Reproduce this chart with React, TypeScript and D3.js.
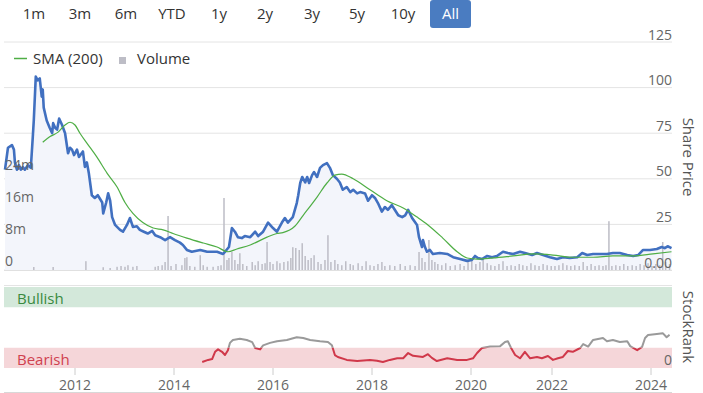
import React from 'react';
import * as d3 from 'd3';

const W = 703;
const H = 393;

const rangeButtons = ['1m', '3m', '6m', 'YTD', '1y', '2y', '3y', '5y', '10y'];
const buttonCenters = [34, 80, 126, 172, 219, 265, 312, 357, 403];

const priceYears = [
  2010.59, 2010.65, 2010.73, 2010.77, 2010.79, 2010.83, 2010.87, 2010.91, 2010.95, 2010.99,
  2011.05, 2011.11, 2011.15, 2011.17, 2011.21, 2011.25, 2011.29, 2011.33, 2011.35, 2011.37,
  2011.43, 2011.49, 2011.54, 2011.56, 2011.60, 2011.64, 2011.68, 2011.74, 2011.80, 2011.86,
  2011.90, 2011.94, 2011.98, 2012.04, 2012.08, 2012.16, 2012.20, 2012.24, 2012.28, 2012.34,
  2012.40, 2012.46, 2012.55, 2012.57, 2012.63, 2012.67, 2012.71, 2012.75, 2012.81, 2012.91,
  2012.97, 2013.05, 2013.11, 2013.17, 2013.25, 2013.31, 2013.39, 2013.47, 2013.56, 2013.62,
  2013.72, 2013.82, 2013.92, 2014.02, 2014.12, 2014.18, 2014.26, 2014.36, 2014.53, 2014.67,
  2014.87, 2014.99, 2015.03, 2015.11, 2015.17, 2015.23, 2015.29, 2015.37, 2015.43, 2015.54,
  2015.64, 2015.70, 2015.80, 2015.90, 2016.00, 2016.08, 2016.18, 2016.24, 2016.30, 2016.40,
  2016.48, 2016.51, 2016.55, 2016.59, 2016.65, 2016.69, 2016.73, 2016.79, 2016.83, 2016.89,
  2016.95, 2017.01, 2017.09, 2017.15, 2017.21, 2017.29, 2017.35, 2017.41, 2017.49, 2017.56,
  2017.62, 2017.70, 2017.76, 2017.86, 2017.92, 2018.00, 2018.06, 2018.12, 2018.20, 2018.26,
  2018.32, 2018.40, 2018.46, 2018.53, 2018.61, 2018.67, 2018.73, 2018.81, 2018.91, 2018.95,
  2019.01, 2019.03, 2019.07, 2019.11, 2019.17, 2019.23, 2019.37, 2019.52, 2019.64, 2019.78,
  2019.92, 2020.02, 2020.10, 2020.17, 2020.27, 2020.40, 2020.52, 2020.64, 2020.79, 2020.91,
  2021.04, 2021.21, 2021.33, 2021.51, 2021.63, 2021.78, 2021.95, 2022.10, 2022.22, 2022.36,
  2022.51, 2022.61, 2022.71, 2022.83, 2022.97, 2023.11, 2023.23, 2023.37, 2023.52, 2023.64,
  2023.74, 2023.84, 2023.98, 2024.12, 2024.22, 2024.28, 2024.34, 2024.42,
];
const priceValues = [
  55, 67, 68.5, 66, 59, 55, 57.5, 55, 56.5, 55,
  57.5, 56, 73, 82, 106, 104, 105, 95, 99, 89,
  82, 78, 75, 80.5, 78, 77, 83, 79.5, 75, 64,
  67, 66, 63, 66, 62, 65, 56.5, 59, 53, 41,
  39.5, 41, 37, 31, 37, 42, 38, 29, 24.7, 22,
  21, 24.7, 28.5, 23.6, 24, 22, 21, 20, 21.4, 19,
  18, 16.4, 18, 16.4, 15, 13.7, 11, 10, 11, 10,
  10, 8.8, 10, 12.6, 23, 21, 18, 17.5, 18.6, 18,
  21, 18.6, 21, 26, 23, 21, 26, 28.5, 26, 29,
  36.7, 41, 47.7, 51, 48, 51, 47.7, 52, 53.7, 51,
  56, 57.5, 58.6, 56, 52, 50, 48, 44, 45.5, 42.7,
  44, 42, 42.7, 42, 38, 41, 39.5, 36.7, 32, 34.5,
  33, 35.6, 33, 30, 29, 30, 33, 28.5, 24.7, 18,
  12.6, 16.4, 12.6, 10, 11, 8.8, 9.3, 8.8, 7, 6,
  5, 5.5, 7.7, 6.6, 6, 7.7, 7, 7.7, 10, 9.3,
  8.8, 10, 9.3, 8.2, 9.3, 8.2, 7, 6, 7, 6.6,
  7, 9.3, 8.2, 8.8, 8.8, 8.8, 9.3, 9.3, 8.2, 7.7,
  8.2, 11, 11, 11.5, 12.6, 12, 13, 12,
];

const smaYears = [
  2011.35, 2011.49, 2011.66, 2011.80, 2011.90, 2012.00, 2012.10, 2012.24, 2012.44, 2012.65,
  2012.85, 2013.01, 2013.17, 2013.37, 2013.58, 2013.78, 2013.98, 2014.26, 2014.59, 2014.87,
  2015.09, 2015.27, 2015.54, 2015.88, 2016.08, 2016.20, 2016.44, 2016.61, 2016.89, 2017.09,
  2017.25, 2017.39, 2017.62, 2017.96, 2018.30, 2018.63, 2018.91, 2019.13, 2019.43, 2019.72,
  2019.92, 2020.15, 2020.54, 2021.04, 2021.53, 2022.02, 2022.42, 2022.83, 2023.23, 2023.64,
  2024.04, 2024.42,
];
const smaValues = [
  70, 73, 75.6, 79.5, 81, 79.5, 75, 69.6, 62, 53,
  45.5, 37, 31, 26, 23, 22, 20, 17.5, 14.8, 12.6,
  10, 11.5, 13.7, 18, 20, 20.5, 24, 30, 40, 47.7,
  52, 52.6, 50, 44, 38, 34, 29, 24.7, 17.5, 10,
  6.6, 6, 6.6, 7.7, 8.8, 8.2, 7, 7, 7.7, 7.7,
  8.8, 10,
];

const volumeYears = [
  2011.17, 2011.56, 2012.22, 2012.57, 2012.71, 2012.85, 2012.93, 2013.01, 2013.07, 2013.17,
  2013.25, 2013.62, 2013.68, 2013.76, 2013.82, 2013.88, 2013.94, 2014.04, 2014.16, 2014.22,
  2014.26, 2014.32, 2014.42, 2014.53, 2014.59, 2014.67, 2014.79, 2014.89, 2014.95, 2015.01,
  2015.07, 2015.11, 2015.17, 2015.23, 2015.29, 2015.33, 2015.39, 2015.47, 2015.58, 2015.64,
  2015.70, 2015.78, 2015.84, 2015.88, 2015.94, 2016.00, 2016.08, 2016.14, 2016.22, 2016.30,
  2016.36, 2016.40, 2016.46, 2016.53, 2016.59, 2016.65, 2016.71, 2016.77, 2016.83, 2016.91,
  2016.97, 2017.05, 2017.11, 2017.17, 2017.25, 2017.31, 2017.39, 2017.47, 2017.56, 2017.62,
  2017.72, 2017.80, 2017.88, 2017.96, 2018.04, 2018.12, 2018.20, 2018.26, 2018.36, 2018.46,
  2018.57, 2018.67, 2018.77, 2018.87, 2018.95, 2019.01, 2019.07, 2019.15, 2019.21, 2019.27,
  2019.33, 2019.41, 2019.49, 2019.58, 2019.68, 2019.78, 2019.86, 2019.94, 2020.02, 2020.12,
  2020.22, 2020.30, 2020.40, 2020.49, 2020.59, 2020.69, 2020.79, 2020.89, 2020.99, 2021.09,
  2021.19, 2021.28, 2021.38, 2021.48, 2021.58, 2021.68, 2021.78, 2021.88, 2021.98, 2022.06,
  2022.14, 2022.22, 2022.30, 2022.38, 2022.46, 2022.55, 2022.63, 2022.71, 2022.79, 2022.87,
  2022.95, 2023.03, 2023.09, 2023.15, 2023.21, 2023.29, 2023.37, 2023.45, 2023.53, 2023.62,
  2023.70, 2023.78, 2023.86, 2023.94, 2024.02, 2024.10, 2024.18, 2024.24, 2024.30, 2024.38,
];
const volumeValues = [
  0.75, 0.75, 2.2, 0.7, 0.5, 0.8, 1.0, 0.8, 1.2, 0.8,
  1.0, 0.8, 1.0, 1.2, 2.0, 13.5, 1.0, 1.5, 1.2, 3.0,
  3.2, 1.0, 0.8, 3.7, 1.2, 0.8, 0.8, 1.0, 1.2, 18.0,
  2.5, 3.0, 4.5, 2.5, 1.5, 4.2, 1.5, 1.0, 2.0, 1.2,
  2.2, 1.5, 1.7, 7.0, 2.0, 1.5, 2.2, 1.7, 2.0, 2.2,
  3.0, 5.7, 5.5, 5.0, 6.7, 3.5, 2.5, 3.0, 3.7, 2.0,
  1.5, 2.5, 8.7, 2.0, 2.5, 1.5, 1.2, 2.2, 1.5, 1.2,
  1.7, 1.0, 2.2, 1.2, 1.0, 1.5, 2.0, 1.0, 1.2, 1.0,
  1.5, 1.0, 1.2, 1.0, 4.5, 3.0, 2.0, 7.5, 2.5, 2.0,
  1.5, 1.2, 1.7, 1.0, 1.2, 1.5, 1.0, 2.0, 2.5, 1.5,
  2.0, 3.0, 1.7, 1.2, 1.0, 1.5, 2.2, 1.0, 1.2, 1.0,
  1.5, 1.2, 1.0, 1.7, 1.2, 1.0, 1.5, 1.2, 1.0, 1.0,
  1.2, 1.7, 1.2, 1.0, 1.2, 1.0, 2.0, 1.0, 1.5, 1.0,
  1.2, 1.0, 1.2, 12.2, 1.0, 1.2, 1.0, 1.5, 1.0, 1.2,
  1.0, 1.5, 1.2, 1.7, 1.0, 1.5, 1.2, 7.0, 2.0, 1.5,
];

const rankYears = [
  2014.57, 2014.69, 2014.77, 2014.83, 2014.89, 2014.97, 2015.03, 2015.09, 2015.13, 2015.19,
  2015.33, 2015.47, 2015.58, 2015.64, 2015.74, 2015.80, 2015.94, 2016.08, 2016.28, 2016.48,
  2016.61, 2016.75, 2016.95, 2017.11, 2017.19, 2017.25, 2017.31, 2017.49, 2017.70, 2017.96,
  2018.10, 2018.22, 2018.36, 2018.51, 2018.63, 2018.73, 2018.83, 2019.03, 2019.13, 2019.21,
  2019.31, 2019.52, 2019.72, 2019.92, 2020.05, 2020.15, 2020.27, 2020.47, 2020.72, 2020.84,
  2020.91, 2020.99, 2021.09, 2021.21, 2021.33, 2021.46, 2021.63, 2021.75, 2021.90, 2022.02,
  2022.12, 2022.22, 2022.32, 2022.42, 2022.57, 2022.63, 2022.73, 2022.83, 2023.03, 2023.11,
  2023.23, 2023.37, 2023.52, 2023.58, 2023.72, 2023.82, 2023.88, 2023.94, 2024.12, 2024.24,
  2024.32, 2024.38,
];
const rankValues = [
  7.4, 10, 11, 20, 23, 20, 16, 22, 31, 34.6,
  36, 34.6, 32, 24.7, 23, 28, 31, 33, 34.6, 38,
  37, 34.6, 33, 32, 28, 16, 13.6, 10, 8.6, 10,
  9, 7.4, 10, 12, 12, 18.5, 15, 13.6, 17, 12.5,
  8.6, 12, 10, 10, 12, 18.5, 24.7, 26.5, 27, 32,
  33, 24.7, 16, 12, 20, 12, 13.6, 12, 14.8, 10,
  12, 13.6, 21, 20, 24.7, 29.6, 26.5, 34.6, 37, 33,
  34.6, 32, 33, 27, 22, 26, 37, 40.7, 42, 43,
  38, 41,
];

const priceTicks = [0, 25, 50, 75, 100, 125];
const volumeTicks = [0, 8, 16, 24];
const yearTicks = [2012, 2014, 2016, 2018, 2020, 2022, 2024];
const rankThreshold = 25;

const FONT = '"Open Sans", "Noto Sans", sans-serif';

export default function App() {
  const x = d3
    .scaleLinear()
    .domain([2010.57, 2012, 2014, 2016, 2018, 2020, 2022, 2024, 2024.43])
    .range([4, 75, 174, 273, 372, 471, 552, 651, 672]);
  const yP = d3.scaleLinear().domain([0, 125]).range([270, 42]);
  const yV = d3.scaleLinear().domain([0, 24]).range([270, 174]);
  const yR = d3.scaleLinear().domain([0, 100]).range([368, 287]);

  const priceData = priceYears.map((t, i) => [t, priceValues[i]] as [number, number]);
  const smaData = smaYears.map((t, i) => [t, smaValues[i]] as [number, number]);
  const rankData = rankYears.map((t, i) => [t, rankValues[i]] as [number, number]);

  const priceLine = d3
    .line<[number, number]>()
    .x((d) => x(d[0]))
    .y((d) => yP(d[1]))
    .curve(d3.curveLinear);
  const priceArea = d3
    .area<[number, number]>()
    .x((d) => x(d[0]))
    .y0(yP(0))
    .y1((d) => yP(d[1]));
  const smaLine = d3
    .line<[number, number]>()
    .x((d) => x(d[0]))
    .y((d) => yP(d[1]))
    .curve(d3.curveMonotoneX);
  const rankLine = d3
    .line<[number, number]>()
    .x((d) => x(d[0]))
    .y((d) => yR(d[1]))
    .curve(d3.curveLinear);

  const left = x.range()[0];
  const right = x.range()[x.range().length - 1];
  const thrY = yR(rankThreshold);

  return (
    <svg
      width={W}
      height={H}
      style={{ position: 'absolute', left: 0, top: 0, fontFamily: FONT }}
    >
      <defs>
        <clipPath id="rankAbove">
          <rect x={0} y={0} width={W} height={thrY} />
        </clipPath>
        <clipPath id="rankBelow">
          <rect x={0} y={thrY} width={W} height={H - thrY} />
        </clipPath>
      </defs>
      <rect x={0} y={0} width={W} height={H} fill="#ffffff" />

      {/* range selector */}
      {rangeButtons.map((b, i) => (
        <text
          key={b}
          x={buttonCenters[i]}
          y={19}
          textAnchor="middle"
          fontSize={15}
          fill="#333333"
        >
          {b}
        </text>
      ))}
      <rect x={430} y={0} width={41} height={28} rx={3} fill="#4a7cc1" />
      <text x={450.5} y={19} textAnchor="middle" fontSize={15} fill="#ffffff">
        All
      </text>

      {/* price grid */}
      {priceTicks.map((t) => (
        <line
          key={'g' + t}
          x1={left}
          x2={right}
          y1={yP(t)}
          y2={yP(t)}
          stroke="#e4e4e4"
          strokeWidth={1}
        />
      ))}

      {/* area */}
      <path d={priceArea(priceData) || ''} fill="#f3f5fb" />

      {/* volume */}
      {volumeYears.map((t, i) => (
        <rect
          key={'v' + i}
          x={x(t) - 0.75}
          y={yV(volumeValues[i])}
          width={1.5}
          height={yV(0) - yV(volumeValues[i])}
          fill="#bdbdc6"
        />
      ))}

      {/* price line and SMA */}
      <path d={priceLine(priceData) || ''} fill="none" stroke="#4170c0" strokeWidth={2.6} strokeLinejoin="round" />
      <path d={smaLine(smaData) || ''} fill="none" stroke="#4fae45" strokeWidth={1.2} />

      {/* price axis labels */}
      {priceTicks.map((t) => (
        <text
          key={'pl' + t}
          x={right}
          y={yP(t) - 2.5}
          textAnchor="end"
          fontSize={14}
          fill="#666666"
        >
          {t === 0 ? '0.00' : String(t)}
        </text>
      ))}

      {/* volume axis labels */}
      {volumeTicks.map((t) => (
        <text key={'vl' + t} x={5} y={yV(t) - 4} fontSize={14} fill="#666666">
          {t === 0 ? '0' : t + 'm'}
        </text>
      ))}

      {/* legend */}
      <line x1={14} x2={27} y1={58.5} y2={58.5} stroke="#4fae45" strokeWidth={1.5} />
      <text x={33} y={64} fontSize={15} fill="#333333">
        SMA (200)
      </text>
      <rect x={119} y={57} width={7} height={7} fill="#bdbdc6" />
      <text x={137} y={64} fontSize={15} fill="#333333">
        Volume
      </text>

      <text
        transform={`translate(683, 157) rotate(90)`}
        textAnchor="middle"
        fontSize={15}
        fill="#555555"
      >
        Share Price
      </text>

      {/* pane separator */}
      <line x1={left} x2={right} y1={270.5} y2={270.5} stroke="#e0e0e0" />

      {/* stockrank pane */}
      <line x1={left} x2={right} y1={285.5} y2={285.5} stroke="#e4e4e4" />
      <rect x={left} y={yR(100)} width={right - left} height={yR(75) - yR(100)} fill="#d3e8da" />
      <rect x={left} y={yR(25)} width={right - left} height={yR(0) - yR(25)} fill="#f5d6d9" />
      <text x={17} y={304} fontSize={15} fill="#3a8a3f">
        Bullish
      </text>
      <text x={17} y={365} fontSize={15} fill="#d0414f">
        Bearish
      </text>

      <path
        d={rankLine(rankData) || ''}
        fill="none"
        stroke="#9a9a9a"
        strokeWidth={2}
        strokeLinejoin="round"
        clipPath="url(#rankAbove)"
      />
      <path
        d={rankLine(rankData) || ''}
        fill="none"
        stroke="#d0384a"
        strokeWidth={2}
        strokeLinejoin="round"
        clipPath="url(#rankBelow)"
      />

      <text x={right} y={365} textAnchor="end" fontSize={14} fill="#666666">
        0
      </text>
      <text
        transform={`translate(683, 327) rotate(90)`}
        textAnchor="middle"
        fontSize={15}
        fill="#555555"
      >
        StockRank
      </text>

      {/* x axis */}
      <line x1={left} x2={right} y1={392.5} y2={392.5} stroke="#d8d8d8" />
      {yearTicks.map((t) => (
        <g key={'yt' + t}>
          <line x1={x(t)} x2={x(t)} y1={368} y2={375} stroke="#cccccc" />
          <text x={x(t)} y={390} textAnchor="middle" fontSize={14} fill="#666666">
            {t}
          </text>
        </g>
      ))}
    </svg>
  );
}
